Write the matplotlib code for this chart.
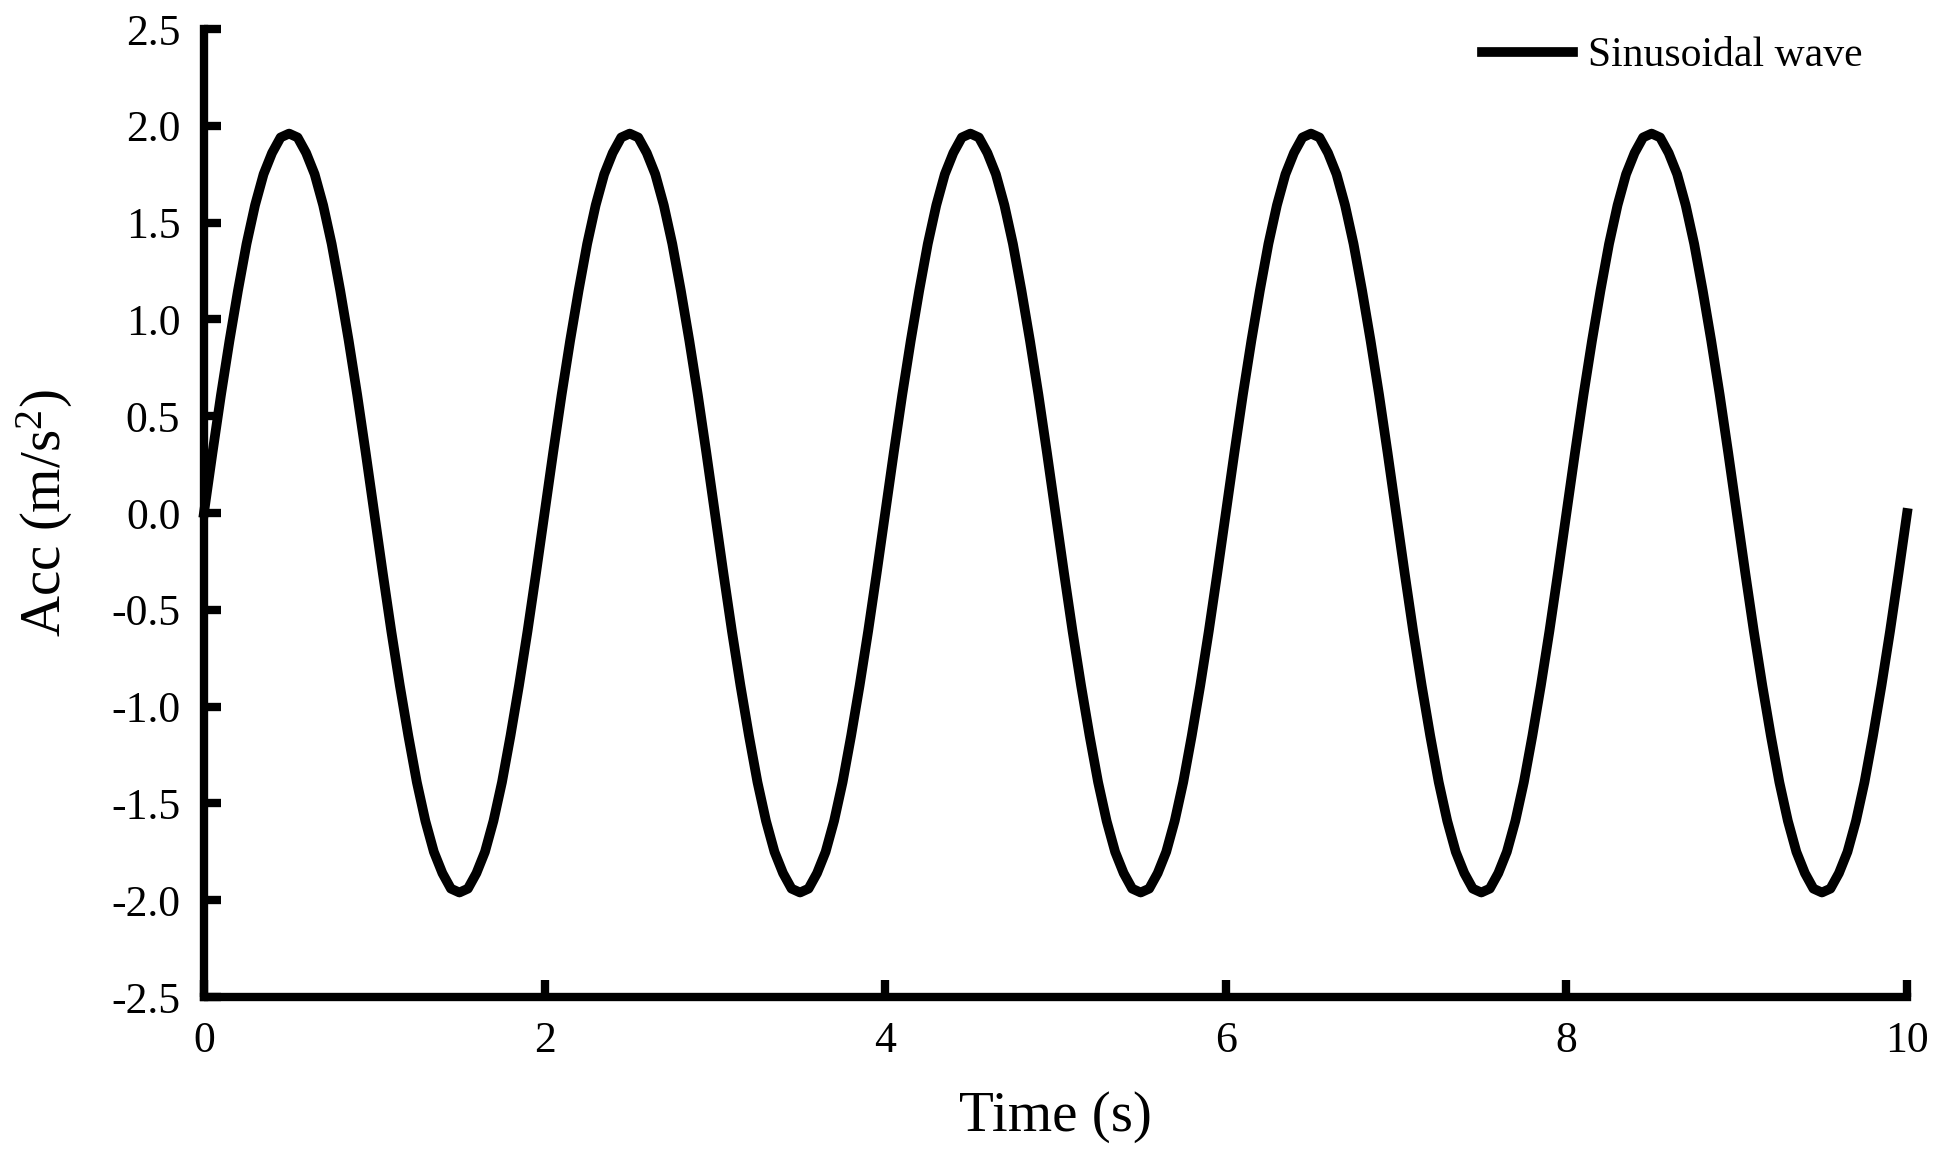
import numpy as np
import matplotlib
matplotlib.use('Agg')
import matplotlib.pyplot as plt

plt.rcParams['font.family'] = ['Liberation Serif', 'DejaVu Serif']
plt.rcParams['mathtext.fontset'] = 'custom'
plt.rcParams['mathtext.rm'] = 'Liberation Serif'
plt.rcParams['mathtext.it'] = 'Liberation Serif'

# Time samples (s), every 0.05 s from 0 to 10
time = np.linspace(0, 10, 201)

# Acceleration (m/s^2), one row per 2 s cycle
acc = [
    0.00, 0.31, 0.61, 0.89, 1.15, 1.39, 1.59, 1.75, 1.86, 1.94, 1.96, 1.94, 1.86, 1.75, 1.59, 1.39, 1.15, 0.89, 0.61, 0.31,
    0.00, -0.31, -0.61, -0.89, -1.15, -1.39, -1.59, -1.75, -1.86, -1.94, -1.96, -1.94, -1.86, -1.75, -1.59, -1.39, -1.15, -0.89, -0.61, -0.31,
    0.00, 0.31, 0.61, 0.89, 1.15, 1.39, 1.59, 1.75, 1.86, 1.94, 1.96, 1.94, 1.86, 1.75, 1.59, 1.39, 1.15, 0.89, 0.61, 0.31,
    0.00, -0.31, -0.61, -0.89, -1.15, -1.39, -1.59, -1.75, -1.86, -1.94, -1.96, -1.94, -1.86, -1.75, -1.59, -1.39, -1.15, -0.89, -0.61, -0.31,
    0.00, 0.31, 0.61, 0.89, 1.15, 1.39, 1.59, 1.75, 1.86, 1.94, 1.96, 1.94, 1.86, 1.75, 1.59, 1.39, 1.15, 0.89, 0.61, 0.31,
    0.00, -0.31, -0.61, -0.89, -1.15, -1.39, -1.59, -1.75, -1.86, -1.94, -1.96, -1.94, -1.86, -1.75, -1.59, -1.39, -1.15, -0.89, -0.61, -0.31,
    0.00, 0.31, 0.61, 0.89, 1.15, 1.39, 1.59, 1.75, 1.86, 1.94, 1.96, 1.94, 1.86, 1.75, 1.59, 1.39, 1.15, 0.89, 0.61, 0.31,
    0.00, -0.31, -0.61, -0.89, -1.15, -1.39, -1.59, -1.75, -1.86, -1.94, -1.96, -1.94, -1.86, -1.75, -1.59, -1.39, -1.15, -0.89, -0.61, -0.31,
    0.00, 0.31, 0.61, 0.89, 1.15, 1.39, 1.59, 1.75, 1.86, 1.94, 1.96, 1.94, 1.86, 1.75, 1.59, 1.39, 1.15, 0.89, 0.61, 0.31,
    0.00, -0.31, -0.61, -0.89, -1.15, -1.39, -1.59, -1.75, -1.86, -1.94, -1.96, -1.94, -1.86, -1.75, -1.59, -1.39, -1.15, -0.89, -0.61, -0.31,
    0.00,
]

xticks = [0, 2, 4, 6, 8, 10]
yticks = [-2.5, -2.0, -1.5, -1.0, -0.5, 0.0, 0.5, 1.0, 1.5, 2.0, 2.5]

fig = plt.figure(figsize=(19.46, 11.52), dpi=100)
ax = fig.add_axes([0.1048, 0.1345, 0.8752, 0.8403])

ax.plot(time, acc, color='black', lw=7, label='Sinusoidal wave', clip_on=False)

ax.set_xlim(0, 10)
ax.set_ylim(-2.5, 2.5)
ax.set_xticks(xticks)
ax.set_yticks(yticks)
ax.set_yticklabels(['%.1f' % v for v in yticks])

for s in ['top', 'right']:
    ax.spines[s].set_visible(False)
for s in ['left', 'bottom']:
    ax.spines[s].set_linewidth(6)
ax.tick_params(direction='in', length=12, width=6, labelsize=31.5, pad=17)

ax.set_xlabel('Time (s)', fontsize=41, labelpad=22)
ax.set_ylabel('Acc (m/s$^2$)', fontsize=41, labelpad=26)

ax.legend(loc='upper right', bbox_to_anchor=(0.9836, 1.0093), frameon=False,
          fontsize=30, handlelength=2.2, handletextpad=0.35, borderaxespad=0)

plt.savefig('out.png', dpi=100)
plt.close()
